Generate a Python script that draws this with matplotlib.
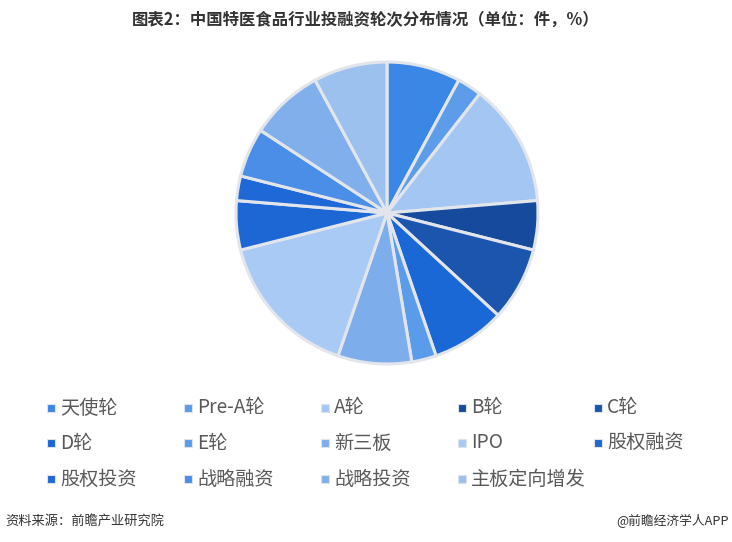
import matplotlib.pyplot as plt
from matplotlib.patches import Rectangle

plt.rcParams['font.family'] = ['Noto Sans CJK SC', 'DejaVu Sans']

# 投融资轮次 (件)
rounds = ["天使轮", "Pre-A轮", "A轮", "B轮", "C轮",
          "D轮", "E轮", "新三板", "IPO", "股权融资",
          "股权投资", "战略融资", "战略投资", "主板定向增发"]
counts = [3, 1, 5, 2, 3, 3, 1, 3, 6, 2, 1, 2, 3, 3]
colors = ["#3B87E5", "#5C9CE9", "#A3C6F2", "#164A9C", "#1C55AD",
          "#1A67D6", "#5B9CEA", "#7EADEC", "#A8CAF4", "#1C67D4",
          "#1E68D8", "#4A8EE7", "#81AFEC", "#9DC1EF"]

W, H = 732, 542
fig = plt.figure(figsize=(W / 100, H / 100), dpi=100)

# pie centred at (387, 213) px, radius ~151 px
cx, cy, r = 387, 213, 151
ax = fig.add_axes([(cx - r) / W, (H - cy - r) / H, 2 * r / W, 2 * r / H])
wedges, _ = ax.pie(counts, colors=colors, startangle=90, counterclock=False,
                   radius=1.0,
                   wedgeprops=dict(edgecolor="#E2E6EC", linewidth=2.2))
for w in wedges:
    w.set_clip_on(False)
ax.set_xlim(-1, 1)
ax.set_ylim(-1, 1)
ax.set_aspect("equal")
ax.axis("off")

fig.text(366 / W, 1 - 20 / H, "图表2：中国特医食品行业投融资轮次分布情况（单位：件，%）",
         ha="center", va="center", fontsize=11.8, fontweight="bold", color="#333333")

# legend, 5 columns x 3 rows
col_x = [51, 188, 325, 462, 598]
row_y = [408, 443, 479]
for i, (name, c) in enumerate(zip(rounds, colors)):
    x = col_x[i % 5]
    y = row_y[i // 5]
    fig.patches.append(Rectangle(((x - 4) / W, 1 - (y + 4) / H), 8 / W, 8 / H,
                                 transform=fig.transFigure, facecolor=c,
                                 edgecolor="#DDE3EA", linewidth=0.8))
    fig.text((x + 9) / W, 1 - y / H, name, ha="left", va="center",
             fontsize=13.8, color="#595959")

fig.text(5 / W, 1 - 521 / H, "资料来源：前瞻产业研究院", ha="left", va="center",
         fontsize=9.5, color="#333333")
fig.text(729 / W, 1 - 521 / H, "@前瞻经济学人APP", ha="right", va="center",
         fontsize=9.2, color="#333333")

fig.savefig("out.png", dpi=100)
